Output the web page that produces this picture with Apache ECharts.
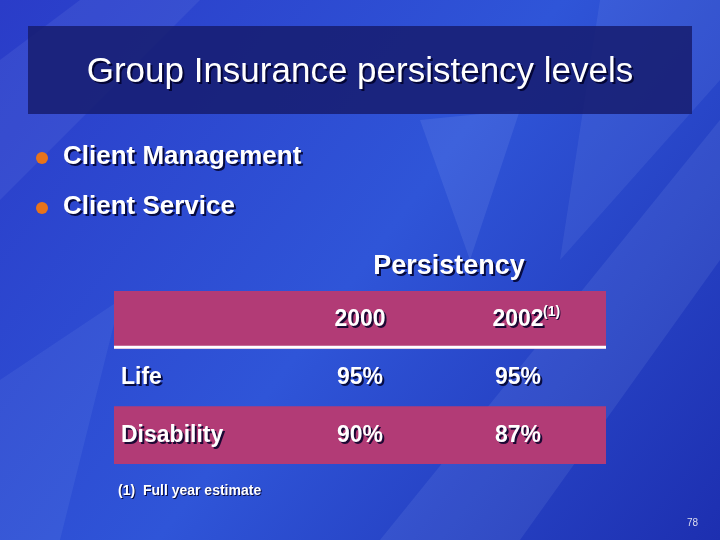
<!DOCTYPE html>
<html>
<head>
<meta charset="utf-8">
<script src="https://cdn.jsdelivr.net/npm/echarts@6/dist/echarts.min.js"></script>
<style>
  html, body { margin: 0; padding: 0; }
  #chart { width: 720px; height: 540px; }
</style>
</head>
<body>
<div id="chart"></div>
<script>
// 表格数据
var columns = ['', '2000', '2002'];
var rows = ['header', 'Life', 'Disability'];
var headerLabels = ['', '2000', '2002'];
var lifeValues = ['95%', '95%'];
var disabilityValues = ['90%', '87%'];
var bullets = ['Client Management', 'Client Service'];

var pink = '#B23B76';
var FONT = 'Arial, "Liberation Sans", sans-serif';

// build cells [col, row, text]
var cells = [];
headerLabels.forEach(function (t, i) { cells.push([i, 0, t]); });
cells.push([0, 1, 'Life']);
lifeValues.forEach(function (t, i) { cells.push([i + 1, 1, t]); });
cells.push([0, 2, 'Disability']);
disabilityValues.forEach(function (t, i) { cells.push([i + 1, 2, t]); });

var chart = echarts.init(document.getElementById('chart'));

function streak(points, op) {
  return { type: 'polygon', shape: { points: points }, style: { fill: 'rgba(200,220,255,' + op + ')' }, silent: true };
}
// 文字加阴影：先画一层深色偏移，再画白字
function txt(x, y, text, font, align, off) {
  off = off || 2;
  var base = { text: text, font: font, align: align || 'left', verticalAlign: 'middle' };
  return { type: 'group', children: [
    { type: 'text', x: x + off, y: y + off, style: Object.assign({ fill: 'rgba(0,0,40,0.85)' }, base) },
    { type: 'text', x: x, y: y, style: Object.assign({ fill: '#fff' }, base) }
  ] };
}

chart.setOption({
  animation: false,
  backgroundColor: {
    type: 'linear', x: 0, y: 0, x2: 1, y2: 1,
    colorStops: [{ offset: 0, color: '#2a3cc8' }, { offset: 0.5, color: '#2f55d8' }, { offset: 1, color: '#1d2fb0' }]
  },
  graphic: [
    streak([[0, 60], [80, 0], [200, 0], [0, 200]], 0.08),
    streak([[380, 540], [720, 120], [720, 260], [520, 540]], 0.09),
    streak([[420, 120], [520, 110], [470, 260]], 0.1),
    streak([[600, 0], [720, 0], [720, 80], [560, 260]], 0.08),
    streak([[0, 380], [120, 300], [60, 540], [0, 540]], 0.07),
    { type: 'rect', shape: { x: 28, y: 26, width: 664, height: 88 }, style: { fill: 'rgba(22,28,110,0.85)' }, silent: true },
    txt(360, 72, 'Group Insurance persistency levels', '35px ' + FONT, 'center'),
    { type: 'circle', shape: { cx: 42, cy: 158, r: 6 }, style: { fill: '#e8731a' } },
    { type: 'circle', shape: { cx: 42, cy: 208, r: 6 }, style: { fill: '#e8731a' } },
    txt(63, 157, bullets[0], 'bold 26px ' + FONT),
    txt(63, 207, bullets[1], 'bold 26px ' + FONT),
    txt(449, 267, 'Persistency', 'bold 27px ' + FONT, 'center'),
    txt(118, 491, '(1)  Full year estimate', 'bold 14px ' + FONT, 'left', 1),
    { type: 'text', x: 698, y: 523, style: { text: '78', fill: '#dde', font: '10px ' + FONT, align: 'right', verticalAlign: 'middle' } }
  ],
  grid: { left: 114, top: 291, width: 492, height: 173 },
  xAxis: { type: 'category', data: columns, show: false },
  yAxis: { type: 'category', data: rows, inverse: true, show: false },
  series: [{
    type: 'custom',
    data: cells,
    encode: { x: 0, y: 1 },
    renderItem: function (params, api) {
      var col = api.value(0), row = api.value(1);
      var c = api.coord([col, row]);
      var size = api.size([1, 1]);
      var gridX = params.coordSys.x, gridW = params.coordSys.width;
      var top = c[1] - size[1] / 2;
      var children = [];
      if (col === 0 && row !== 1) {
        children.push({ type: 'rect', shape: { x: gridX, y: top, width: gridW, height: size[1] }, style: { fill: pink } });
      }
      if (col === 0 && row === 0) {
        children.push({ type: 'rect', shape: { x: gridX, y: top + size[1] - 3, width: gridW, height: 3 }, style: { fill: '#fff' } });
      }
      var tx = col === 0 ? gridX + 7 : c[0] + (col === 1 ? 0 : -6);
      children.push(txt(tx, c[1], api.value(2), 'bold 23px ' + FONT, col === 0 ? 'left' : 'center'));
      if (row === 0 && col === 2) {
        children.push(txt(c[0] + 19, c[1] - 8, '(1)', 'bold 14px ' + FONT, 'left', 1));
      }
      return { type: 'group', children: children };
    },
    z: 1
  }]
});
</script>
</body>
</html>
